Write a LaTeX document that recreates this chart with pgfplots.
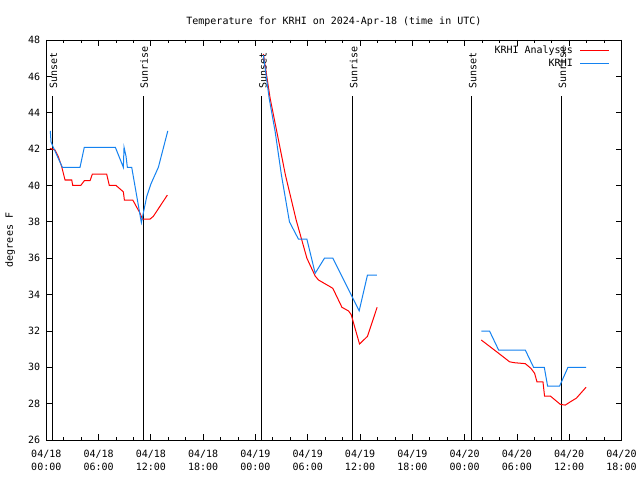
\documentclass[border=0pt]{standalone}
\usepackage{fontspec}
\setmainfont{DejaVu Sans Mono}
\usepackage{pgfplots}
\pgfplotsset{compat=1.18}
\definecolor{obsblue}{RGB}{20,130,240}
\newcommand{\gf}{\fontsize{10pt}{13.5pt}\selectfont}
\begin{document}
\begin{tikzpicture}[x=1pt,y=1pt]
\useasboundingbox[fill=white] (0,0) rectangle (640,480);
\begin{axis}[
  at={(46.3pt,40pt)}, anchor=south west,
  width=575.2pt, height=400pt, scale only axis,
  xmin=0, xmax=66, ymin=26, ymax=48,
  xtick={0,6,...,66},
  xticklabels={{04/18\\00:00},{04/18\\06:00},{04/18\\12:00},{04/18\\18:00},{04/19\\00:00},{04/19\\06:00},{04/19\\12:00},{04/19\\18:00},{04/20\\00:00},{04/20\\06:00},{04/20\\12:00},{04/20\\18:00}},
  xticklabel style={align=center, font=\gf, yshift=-6.5pt},
  minor x tick num=2,
  ytick={26,28,...,48},
  yticklabel style={font=\gf, xshift=-2.5pt},
  /pgf/number format/assume math mode=true,
  tick align=inside,
  major tick length=6pt, minor tick length=3.5pt,
  every tick/.style={black, line width=0.8pt},
  axis line style={line width=0.9pt},
  font=\gf,
  title={Temperature for KRHI on 2024-Apr-18 (time in UTC)},
  title style={at={(0.5,1)}, anchor=base, yshift=9.5pt, font=\gf},
  ylabel={degrees F},
  ylabel style={at={(axis description cs:-0.063,0.5)}, anchor=center, font=\gf},
  unbounded coords=jump,
  legend cell align=right,
  legend plot pos=right,
  legend style={draw=none, fill=none, at={(1,1)}, anchor=north east,
    xshift=-11.5pt, yshift=-5.5pt, inner sep=0pt, row sep=2.5pt, column sep=7pt,
    font=\gf, nodes={inner sep=0pt, text height=8pt, text depth=2pt}},
  legend image code/.code={\draw[#1] (0pt,0pt) -- (29pt,0pt);},
]
% sunrise / sunset lines
\addplot[black, line width=1pt, forget plot] coordinates {(0.69,26) (0.69,44.92)};
\addplot[black, line width=1pt, forget plot] coordinates {(11.1,26) (11.1,44.92)};
\addplot[black, line width=1pt, forget plot] coordinates {(24.73,26) (24.73,44.92)};
\addplot[black, line width=1pt, forget plot] coordinates {(35.13,26) (35.13,44.92)};
\addplot[black, line width=1pt, forget plot] coordinates {(48.8,26) (48.8,44.92)};
\addplot[black, line width=1pt, forget plot] coordinates {(59.09,26) (59.09,44.92)};
\node[rotate=90, anchor=west, inner sep=0pt, font=\gf] at (axis cs:0.83,45.3) {Sunset};
\node[rotate=90, anchor=west, inner sep=0pt, font=\gf] at (axis cs:11.24,45.3) {Sunrise};
\node[rotate=90, anchor=west, inner sep=0pt, font=\gf] at (axis cs:24.87,45.3) {Sunset};
\node[rotate=90, anchor=west, inner sep=0pt, font=\gf] at (axis cs:35.27,45.3) {Sunrise};
\node[rotate=90, anchor=west, inner sep=0pt, font=\gf] at (axis cs:48.94,45.3) {Sunset};
\node[rotate=90, anchor=west, inner sep=0pt, font=\gf] at (axis cs:59.23,45.3) {Sunrise};
% KRHI Analysis
\addplot[red, line width=1pt] coordinates {
(0.42,42.04) (1.0,41.95) (1.38,41.58) (1.77,41.03) (2.15,40.3) (2.92,40.3) (3.03,40.0) (3.95,40.0)
(4.36,40.26) (5.02,40.26) (5.28,40.62) (6.93,40.62) (7.23,40.0) (8.0,40.0) (8.84,39.65) (8.96,39.2)
(9.92,39.2) (10.76,38.47) (11.02,38.15) (11.9,38.15) (12.28,38.3) (13.89,39.47)
(18,nan)
(24.91,47.23) (25.68,44.8) (26.45,42.96) (27.44,40.57) (28.67,38.1) (29.9,36.0) (30.85,35.02)
(31.23,34.8) (32.57,34.43) (32.88,34.34) (33.92,33.3) (34.67,33.1) (34.98,32.9) (35.94,31.28)
(36.85,31.7) (37.96,33.3)
(44,nan)
(49.91,31.5) (51.9,30.77) (53.16,30.3) (53.73,30.25) (54.96,30.2) (55.61,29.94) (56.03,29.67)
(56.3,29.2) (56.99,29.2) (57.17,28.42) (57.83,28.42) (58.98,27.96) (59.55,27.92) (60.13,28.1)
(60.82,28.3) (61.93,28.9)
};
\addlegendentry{KRHI Analysis}
% KRHI observed
\addplot[obsblue, line width=1pt] coordinates {
(0.46,43.0) (0.54,42.4) (0.8,42.1) (1.84,41.0) (3.87,41.0) (4.36,42.1) (7.92,42.1) (8.84,41.0)
(8.92,42.1) (9.15,41.6) (9.3,41.0) (9.8,41.0) (10.91,37.95) (11.14,38.5) (11.53,39.4) (12.02,40.1)
(12.86,41.0) (13.94,43.0)
(18,nan)
(24.91,47.17) (25.57,44.8) (26.26,42.96) (26.98,40.57) (27.9,38.0) (28.93,37.05) (29.9,37.05)
(30.85,35.17) (31.92,36.0) (32.88,36.0) (35.9,33.1) (36.85,35.07) (37.93,35.07)
(44,nan)
(49.91,31.99) (50.86,31.99) (51.9,30.95) (54.96,30.95) (55.91,30.0) (57.14,30.0) (57.52,28.97)
(58.9,28.97) (59.86,30.0) (61.93,30.0)
};
\addlegendentry{KRHI}
\end{axis}
\end{tikzpicture}
\end{document}
